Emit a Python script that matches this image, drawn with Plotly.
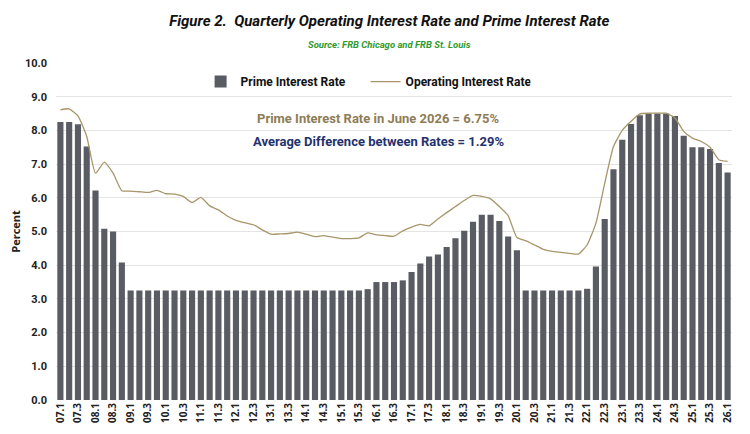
import plotly.graph_objects as go

quarters = [
    "07.1", "07.2", "07.3", "07.4", "08.1", "08.2", "08.3", "08.4",
    "09.1", "09.2", "09.3", "09.4", "10.1", "10.2", "10.3", "10.4",
    "11.1", "11.2", "11.3", "11.4", "12.1", "12.2", "12.3", "12.4",
    "13.1", "13.2", "13.3", "13.4", "14.1", "14.2", "14.3", "14.4",
    "15.1", "15.2", "15.3", "15.4", "16.1", "16.2", "16.3", "16.4",
    "17.1", "17.2", "17.3", "17.4", "18.1", "18.2", "18.3", "18.4",
    "19.1", "19.2", "19.3", "19.4", "20.1", "20.2", "20.3", "20.4",
    "21.1", "21.2", "21.3", "21.4", "22.1", "22.2", "22.3", "22.4",
    "23.1", "23.2", "23.3", "23.4", "24.1", "24.2", "24.3", "24.4",
    "25.1", "25.2", "25.3", "25.4", "26.1",
]

prime_rate = [
    8.25, 8.25, 8.18, 7.52, 6.22, 5.08, 5.00, 4.08,
    3.25, 3.25, 3.25, 3.25, 3.25, 3.25, 3.25, 3.25,
    3.25, 3.25, 3.25, 3.25, 3.25, 3.25, 3.25, 3.25,
    3.25, 3.25, 3.25, 3.25, 3.25, 3.25, 3.25, 3.25,
    3.25, 3.25, 3.25, 3.29, 3.50, 3.50, 3.50, 3.55,
    3.80, 4.05, 4.26, 4.32, 4.54, 4.80, 5.02, 5.29,
    5.50, 5.50, 5.31, 4.85, 4.44, 3.25, 3.25, 3.25,
    3.25, 3.25, 3.25, 3.25, 3.30, 3.96, 5.37, 6.85,
    7.72, 8.19, 8.45, 8.50, 8.50, 8.50, 8.43, 7.84,
    7.50, 7.50, 7.45, 7.03, 6.75,
]

operating_rate = [
    8.61, 8.64, 8.43, 7.82, 6.73, 7.06, 6.73, 6.21,
    6.20, 6.18, 6.16, 6.22, 6.12, 6.11, 6.04, 5.86,
    6.01, 5.76, 5.64, 5.46, 5.33, 5.26, 5.20, 5.05,
    4.92, 4.93, 4.94, 4.98, 4.92, 4.85, 4.88, 4.83,
    4.79, 4.79, 4.81, 4.96, 4.90, 4.88, 4.86, 5.02,
    5.13, 5.21, 5.17, 5.37, 5.56, 5.74, 5.92, 6.07,
    6.04, 5.97, 5.74, 5.47, 4.82, 4.73, 4.60, 4.47,
    4.41, 4.38, 4.35, 4.33, 4.60, 5.25, 6.43, 7.52,
    8.00, 8.27, 8.49, 8.51, 8.51, 8.51, 8.37, 7.97,
    7.77, 7.67, 7.50, 7.13, 7.08,
]

y_ticks = [0, 1, 2, 3, 4, 5, 6, 7, 8, 9, 10]

BAR_COLOR = "#595c63"
LINE_COLOR = "#a8956a"
TEXT_FONT = "Roboto, Liberation Sans, Arial, sans-serif"
COND_FONT = "Roboto, Liberation Sans, sans-serif"

fig = go.Figure()
fig.add_trace(go.Bar(
    x=quarters, y=prime_rate, name="Prime Interest Rate",
    marker=dict(color=BAR_COLOR, line=dict(width=0)),
))
fig.add_trace(go.Scatter(
    x=quarters, y=operating_rate, name="Operating Interest Rate",
    mode="lines", line=dict(color=LINE_COLOR, width=1.3, shape="spline", smoothing=0.5),
))

fig.update_layout(
    width=750, height=434,
    margin=dict(l=56, r=18, t=63, b=34),
    paper_bgcolor="white", plot_bgcolor="white",
    bargap=0.3,
    showlegend=True,
    legend=dict(
        orientation="h", x=0.458, y=0.945, xanchor="center", yanchor="middle",
        font=dict(family=TEXT_FONT, size=12, color="#111111", weight="bold"),
        bgcolor="rgba(0,0,0,0)", entrywidth=120, itemwidth=30,
    ),
    title=dict(
        text="<i>Figure 2.  Quarterly Operating Interest Rate and Prime Interest Rate</i>",
        x=0.493, xanchor="center", y=0.953, yanchor="middle", xref="paper",
        font=dict(family=COND_FONT, size=15, color="#111111", weight="bold"),
    ),
    xaxis=dict(
        type="category", automargin=False,
        tickmode="array", tickvals=quarters[::2], ticktext=quarters[::2],
        tickangle=-90, ticks="", showgrid=False, showline=False, zeroline=False,
        tickfont=dict(family="Open Sans, Liberation Sans, sans-serif", size=10, color="#222222", weight="bold"),
        range=[-0.5, len(quarters) - 0.5],
    ),
    yaxis=dict(
        range=[0, 10], tickvals=y_ticks, tickformat=".1f", automargin=False,
        showgrid=True, gridcolor="#e4e4e4", gridwidth=1, zeroline=False, showline=False,
        ticks="", ticklabelstandoff=8,
        tickfont=dict(family=TEXT_FONT, size=11, color="#222222", weight="bold"),
        title=dict(text="Percent", standoff=2,
                   font=dict(family="Open Sans, Liberation Sans, sans-serif", size=11, color="#222222", weight="bold")),
    ),
)

fig.add_annotation(
    text="<i>Source: FRB Chicago and FRB St. Louis</i>",
    xref="paper", yref="paper", x=0.493, y=(400 - 45) / 337, xanchor="center", yanchor="middle",
    showarrow=False, font=dict(family=COND_FONT, size=9.5, color="#2e9a2e", weight="bold"),
)
fig.add_annotation(
    text="Prime Interest Rate in June 2026 = 6.75%",
    xref="paper", yref="paper", x=0.477, y=(400 - 118) / 337, xanchor="center", yanchor="middle",
    showarrow=False, font=dict(family=TEXT_FONT, size=13, color="#8e7c56", weight="bold"),
)
fig.add_annotation(
    text="Average Difference between Rates = 1.29%",
    xref="paper", yref="paper", x=0.477, y=(400 - 141) / 337, xanchor="center", yanchor="middle",
    showarrow=False, font=dict(family=TEXT_FONT, size=13, color="#1f326e", weight="bold"),
)

fig.write_html("out.html")
